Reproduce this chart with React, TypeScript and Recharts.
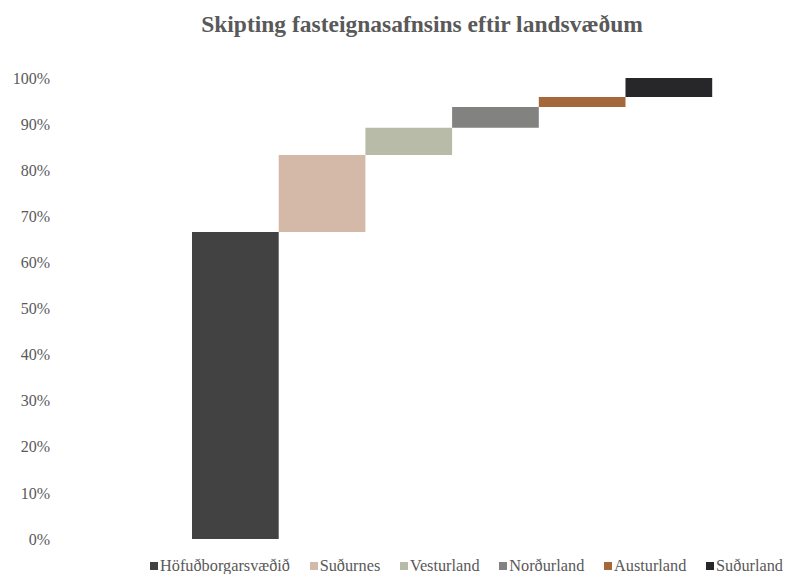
import React from "react";
import { BarChart, Bar, XAxis, YAxis, Legend } from "recharts";

const regions = ["Höfuðborgarsvæðið", "Suðurnes", "Vesturland", "Norðurland", "Austurland", "Suðurland"];
const shares = [66.6, 16.7, 5.9, 4.5, 2.2, 4.1];
const colors = ["#424242", "#d5b9a8", "#b8bba8", "#828280", "#a5683a", "#27272a"];
const yTicks = [0, 10, 20, 30, 40, 50, 60, 70, 80, 90, 100];

// one category, each region is a floating stack: invisible base + visible share
const row: Record<string, number | string> = { cat: "" };
let running = 0;
regions.forEach((r, i) => {
  row["base" + i] = running;
  row["v" + i] = shares[i];
  running += shares[i];
});
const data = [row];

const font = '"Liberation Serif", "Times New Roman", serif';

const renderLegend = () => (
  <div style={{ display: "flex", fontFamily: font, fontSize: 16.3, color: "#595959", marginLeft: 150 }}>
    {regions.map((r, i) => (
      <div key={r} style={{ display: "flex", alignItems: "center", marginRight: 19.7 }}>
        <span style={{ display: "inline-block", width: 8, height: 8, background: colors[i], marginRight: 2 }} />
        <span>{r}</span>
      </div>
    ))}
  </div>
);

export default function App() {
  return (
    <div style={{ position: "absolute", left: 0, top: 0, width: 787, height: 574, background: "#fff" }}>
      <div
        style={{
          position: "absolute",
          left: 0,
          width: 844,
          top: 11,
          textAlign: "center",
          fontFamily: font,
          fontWeight: "bold",
          fontSize: 23.5,
          color: "#595959",
        }}
      >
        Skipting fasteignasafnsins eftir landsvæðum
      </div>
      <BarChart
        width={787}
        height={574}
        data={data}
        margin={{ top: 78, right: 0, bottom: 15, left: 0 }}
        barGap={0}
        barSize={86.7}
      >
        <XAxis dataKey="cat" hide padding={{ left: 55, right: 0 }} />
        <YAxis
          width={62}
          domain={[0, 100]}
          ticks={yTicks}
          tickFormatter={(v) => v + "%"}
          axisLine={false}
          tickLine={false}
          tickSize={0}
          tickMargin={12}
          tick={{ fontFamily: font, fontSize: 16, fill: "#595959" }}
          interval={0}
        />
        <Legend
          content={renderLegend}
          wrapperStyle={{ top: 556, left: 0, width: 787, height: 20 }}
        />
        {regions.map((r, i) => [
          <Bar
            key={"b" + i}
            dataKey={"base" + i}
            stackId={"s" + i}
            fill="transparent"
            legendType="none"
            isAnimationActive={false}
          />,
          <Bar
            key={"v" + i}
            dataKey={"v" + i}
            name={r}
            stackId={"s" + i}
            fill={colors[i]}
            isAnimationActive={false}
          />,
        ])}
      </BarChart>
    </div>
  );
}
